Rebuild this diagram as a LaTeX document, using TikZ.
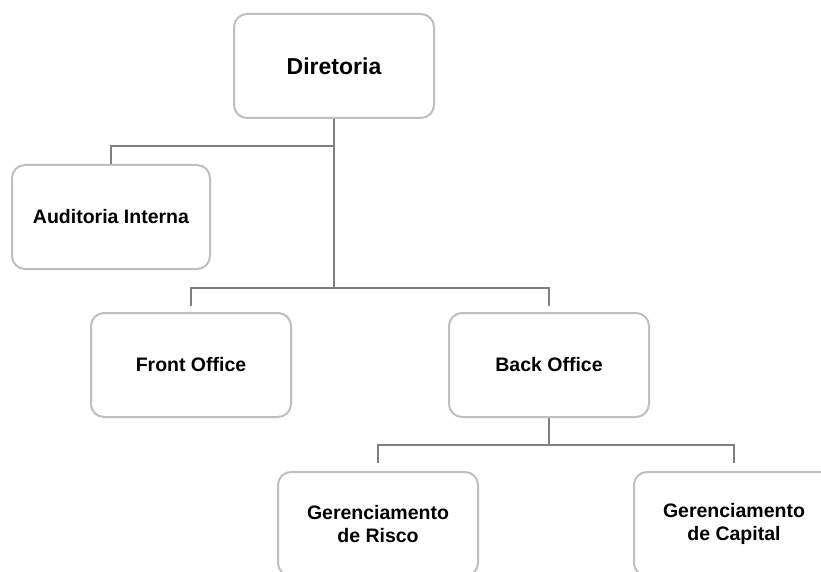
\documentclass[tikz,border=0pt]{standalone}
\usepackage{fontspec}
\setmainfont{Liberation Sans}
\definecolor{boxgray}{HTML}{BFBFBF}
\definecolor{linegray}{HTML}{808080}
\begin{document}
\begin{tikzpicture}[x=1pt,y=-1pt,
  orgbox/.style={draw=boxgray, line width=2pt, rounded corners=13pt, fill=white,
    minimum width=200pt, minimum height=104pt, inner sep=0pt, align=center,
    font=\bfseries\fontsize{19.5}{22.5}\selectfont, text=black},
  conn/.style={draw=linegray, line width=1.2pt}]
\useasboundingbox (0,0) rectangle (821,572);
\clip (0,0) rectangle (821,572);
\fill[white] (0,0) rectangle (821,572);

\node[orgbox, font=\bfseries\fontsize{23}{26}\selectfont] (dir) at (334,66) {Diretoria};
\node[orgbox, minimum width=198pt] (aud) at (111,217) {Auditoria Interna};
\node[orgbox] (front) at (191,365) {Front Office};
\node[orgbox] (back) at (549,365) {Back Office};
\node[orgbox] (risco) at (378,524) {Gerenciamento\\de Risco};
\node[orgbox] (capital) at (734,524) {Gerenciamento\\de Capital};

\coordinate (j1) at (334,146);
\coordinate (j2) at (334,288);
\coordinate (j3) at (549,445);

\draw[conn] (dir.south) -- (j2);
\draw[conn] (j1) -| (aud.north);
\draw[conn] ([yshift=6pt]front.north) |- (j2) -| ([yshift=6pt]back.north);
\draw[conn] (back.south) -- (j3);
\draw[conn] ([yshift=8pt]risco.north) |- (j3) -| ([yshift=8pt]capital.north);
\end{tikzpicture}
\end{document}
